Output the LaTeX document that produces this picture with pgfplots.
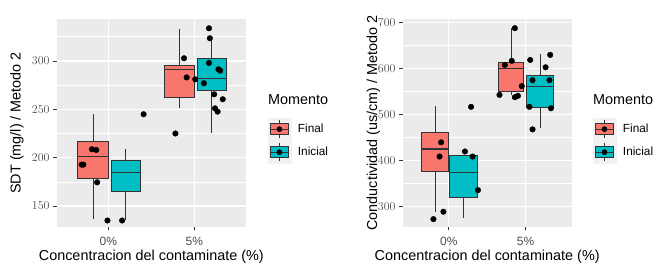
\documentclass[border=0pt]{standalone}
\usepackage{pgfplots}
\pgfplotsset{compat=1.18}
\usepackage{fontspec}
\setmainfont{Liberation Sans}
\definecolor{panel}{HTML}{EBEBEB}
\definecolor{cfinal}{HTML}{F8766D}
\definecolor{cinicial}{HTML}{00BFC4}
\definecolor{gtwenty}{HTML}{333333}
\definecolor{gthirty}{HTML}{4D4D4D}
\definecolor{keybg}{HTML}{F2F2F2}

% box: #1 left, #2 centre, #3 right, #4 lower whisker, #5 q1, #6 median, #7 q3, #8 upper whisker, #9 colour
\newcommand{\ggbox}[9]{%
  \addplot[gtwenty, line width=0.6pt, forget plot] coordinates {(#2,#4) (#2,#5)};
  \addplot[gtwenty, line width=0.6pt, forget plot] coordinates {(#2,#7) (#2,#8)};
  \addplot[fill=#9, draw=gtwenty, line width=0.6pt, forget plot] coordinates {(#1,#5) (#3,#5) (#3,#7) (#1,#7)} --cycle;
  \addplot[gtwenty, line width=1.4pt, forget plot] coordinates {(#1,#6) (#3,#6)};
}

\pgfplotsset{
  ggbase/.style={
    scale only axis, clip mode=individual,
    width=#1, height=207.7pt,
    axis background/.style={fill=panel},
    axis line style={draw=none},
    xmin=0.4, xmax=2.6,
    xtick={1,2}, xticklabels={0\%,5\%},
    xmajorgrids=true, ymajorgrids=true, yminorgrids=true,
    major grid style={white, line width=1.3pt},
    minor grid style={white, line width=0.65pt},
    major tick length=3.6pt, minor tick length=0pt,
    tick align=outside, xtick pos=bottom, ytick pos=left,
    tick style={gtwenty, line width=0.7pt},
    ticklabel style={font=\fontsize{12}{13}\selectfont, text=gthirty},
    xticklabel style={yshift=-3pt},
    label style={font=\fontsize{14.4}{15}\selectfont, text=black},
    xlabel={Concentracion del contaminate (\%)},
    xlabel style={at={(axis description cs:0.5,-0.1435)}, anchor=center},
    legend style={draw=none, fill=none, inner sep=0pt, outer sep=0pt,
      font=\fontsize{11.8}{12}\selectfont, column sep=7pt, row sep=0pt,
      nodes={inner sep=0pt}},
    legend cell align=left,
  },
  keyfinal/.style={legend image code/.code={
    \fill[keybg] (0pt,-11.3pt) rectangle (22.6pt,11.3pt);
    \draw[gtwenty, line width=0.6pt] (11.3pt,-9pt) -- (11.3pt,9pt);
    \draw[fill=cfinal, draw=gtwenty, line width=0.6pt] (2.3pt,-5.6pt) rectangle (20.3pt,5.6pt);
    \draw[gtwenty, line width=1.3pt] (2.3pt,0pt) -- (20.3pt,0pt);
    \fill[black] (11.3pt,0pt) circle (2.6pt);
  }},
  keyinicial/.style={legend image code/.code={
    \fill[keybg] (0pt,-11.3pt) rectangle (22.6pt,11.3pt);
    \draw[gtwenty, line width=0.6pt] (11.3pt,-9pt) -- (11.3pt,9pt);
    \draw[fill=cinicial, draw=gtwenty, line width=0.6pt] (2.3pt,-5.6pt) rectangle (20.3pt,5.6pt);
    \draw[gtwenty, line width=1.3pt] (2.3pt,0pt) -- (20.3pt,0pt);
    \fill[black] (11.3pt,0pt) circle (2.6pt);
  }},
  dots/.style={only marks, mark=*, mark size=2.8pt, black, forget plot},
}

\begin{document}
\begin{tikzpicture}
\useasboundingbox (0,0) rectangle (657pt,266pt);

% ---------------- Left panel: SDT ----------------
\begin{axis}[ggbase=189.3pt,
  at={(56.7pt,39.3pt)}, anchor=south west,
  ymin=128.6, ymax=343.4,
  ytick={150,200,250,300}, minor ytick={175,225,275,325},
  ylabel={SDT (mg/l) / Metodo 2},
  ylabel style={at={(axis description cs:-0.21,0.5)}, anchor=center},
  legend style={at={(axis description cs:1.116,0.525)}, anchor=north west},
]
\addlegendimage{keyfinal}\addlegendentry{Final}
\addlegendimage{keyinicial}\addlegendentry{Inicial}

\ggbox{0.645}{0.82}{0.995}{137}{178.7}{201}{216.5}{245}{cfinal}
\ggbox{1.03}{1.20}{1.37}{136}{164.8}{184.4}{196.9}{208.7}{cinicial}
\ggbox{1.645}{1.82}{1.995}{251}{262}{291}{296}{332.8}{cfinal}
\ggbox{2.03}{2.20}{2.37}{225}{269.3}{282}{302.8}{323.5}{cinicial}

\addplot[dots] coordinates {
  (0.69,192.8) (0.71,192.8) (0.81,208.7) (0.86,208) (0.87,174.5)
  (0.99,135) (1.16,135) (1.41,244.9)
  (1.78,225) (1.88,302.8) (1.91,283) (2.01,281) (2.11,277)
  (2.17,333.8) (2.18,323.5) (2.17,298) (2.28,291.4) (2.30,290)
  (2.23,265.5) (2.33,260.4) (2.24,251) (2.27,247.6)
};
\node[anchor=west, font=\fontsize{14.4}{15}\selectfont, inner sep=0pt]
  at (axis description cs:1.116,0.61) {Momento};
\end{axis}

% ---------------- Right panel: Conductividad ----------------
\begin{axis}[ggbase=169pt,
  at={(402.7pt,39.3pt)}, anchor=south west,
  ymin=256.5, ymax=708,
  ytick={300,400,500,600,700}, minor ytick={350,450,550,650},
  ylabel={Conductividad (us/cm) / Metodo 2},
  ylabel style={at={(axis description cs:-0.174,0.5)}, anchor=center},
  legend style={at={(axis description cs:1.126,0.525)}, anchor=north west},
]
\addlegendimage{keyfinal}\addlegendentry{Final}
\addlegendimage{keyinicial}\addlegendentry{Inicial}

\ggbox{0.645}{0.82}{0.995}{289}{378}{425}{461}{519}{cfinal}
\ggbox{1.01}{1.19}{1.375}{275}{320}{374}{411}{411}{cinicial}
\ggbox{1.645}{1.81}{1.975}{543}{550}{601}{613}{688}{cfinal}
\ggbox{2.01}{2.19}{2.365}{470}{515}{561}{586}{632}{cinicial}

\addplot[dots] coordinates {
  (0.80,273) (0.93,289) (0.90,440) (0.88,409)
  (1.21,420) (1.31,409) (1.38,336) (1.29,517)
  (1.66,543) (1.73,608) (1.82,617) (1.86,688) (1.86,538) (1.90,541) (1.95,562)
  (2.06,619) (2.09,575) (2.05,517) (2.09,468)
  (2.31,575) (2.26,603) (2.32,630) (2.33,514)
};
\node[anchor=west, font=\fontsize{14.4}{15}\selectfont, inner sep=0pt]
  at (axis description cs:1.126,0.61) {Momento};
\end{axis}
\end{tikzpicture}
\end{document}
